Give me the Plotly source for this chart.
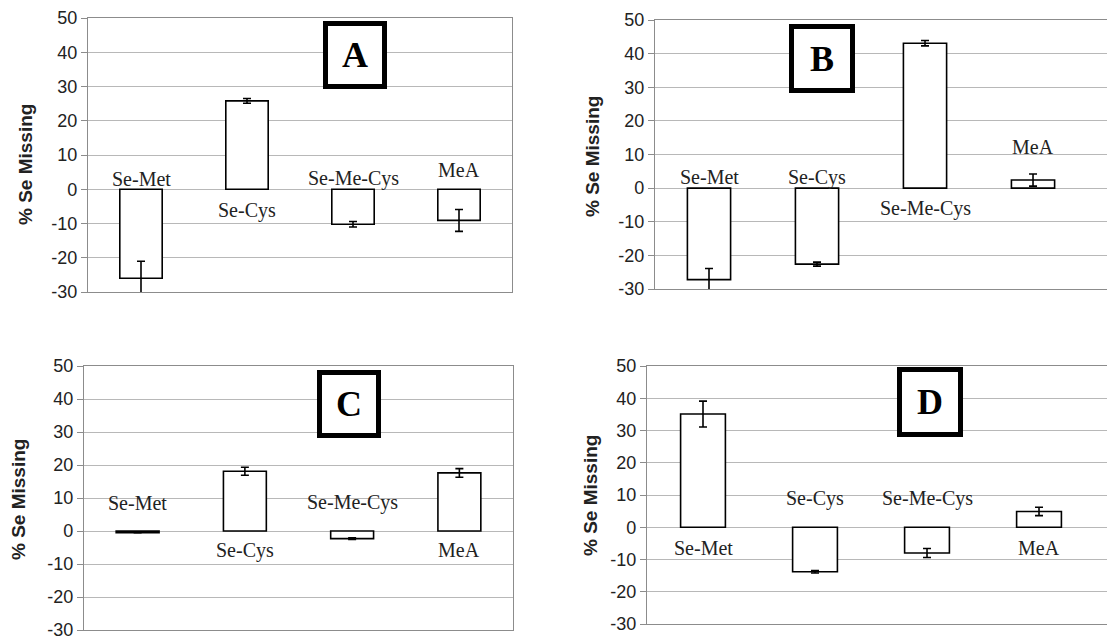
import plotly.graph_objects as go
from plotly.subplots import make_subplots

W, H = 1107, 640

categories = ["Se-Met", "Se-Cys", "Se-Me-Cys", "MeA"]
tick_vals = [-30, -20, -10, 0, 10, 20, 30, 40, 50]
y_title = "% Se Missing"

# panel A
a_values = [-26.0, 25.8, -10.2, -9.1]
a_errors = [5.0, 0.7, 0.8, 3.2]
# panel B
b_values = [-27.2, -22.6, 43.1, 2.4]
b_errors = [3.3, 0.6, 0.8, 1.8]
# panel C
c_values = [-0.5, 18.1, -2.3, 17.6]
c_errors = [0.0, 1.2, 0.25, 1.3]
# panel D
d_values = [35.1, -13.8, -8.0, 4.9]
d_errors = [4.0, 0.4, 1.4, 1.3]

panel_letters = ["A", "B", "C", "D"]

# label vertical positions (data units) per panel
a_label_y = [3.1, -6.1, 3.1, 5.6]
b_label_y = [3.2, 3.2, -6.2, 12.3]
c_label_y = [8.5, -5.9, 8.5, -5.9]
d_label_y = [-6.5, 8.8, 8.8, -6.5]


def X(px):
    return px / W


def Y(py):
    return 1 - py / H


panels = [
    dict(vals=a_values, errs=a_errors, lab=a_label_y, l=88, r=512, t=18, b=292, xend=3.5, mirror=True,
         box=(325.5, 384.5, 23.5, 86.5), title=(25, 165)),
    dict(vals=b_values, errs=b_errors, lab=b_label_y, l=655, r=1107, t=20, b=289, xend=3.685, mirror=False,
         box=(791.5, 852.5, 26.5, 90.5), title=(592, 157)),
    dict(vals=c_values, errs=c_errors, lab=c_label_y, l=84, r=513, t=366, b=630, xend=3.5, mirror=True,
         box=(319.5, 378.5, 372.5, 435.5), title=(18, 500)),
    dict(vals=d_values, errs=d_errors, lab=d_label_y, l=647, r=1107, t=366, b=624, xend=3.607, mirror=False,
         box=(899.5, 960.5, 369.5, 434.5), title=(590, 496)),
]

fig = make_subplots(rows=2, cols=2)

annotations = []
shapes = []
grid_color = "#b8b8b8"
line_color = "#8c8c8c"

for i, p in enumerate(panels):
    row, col = i // 2 + 1, i % 2 + 1
    fig.add_trace(
        go.Bar(
            x=list(range(len(categories))),
            y=p["vals"],
            marker=dict(color="white", line=dict(color="black", width=1.6)),
            error_y=dict(type="data", array=p["errs"], visible=True, color="black", thickness=1.6, width=4),
            showlegend=False,
            hoverinfo="skip",
            cliponaxis=False,
        ),
        row=row, col=col,
    )
    xa = "xaxis" if i == 0 else f"xaxis{i+1}"
    ya = "yaxis" if i == 0 else f"yaxis{i+1}"
    fig.layout[xa].update(
        domain=[X(p["l"]), X(p["r"])],
        range=[-0.5, p["xend"]],
        showticklabels=False, ticks="", showgrid=False, zeroline=False,
        showline=True, linecolor=line_color, linewidth=1.3, mirror=True,
        fixedrange=True, automargin=False,
    )
    fig.layout[ya].update(
        domain=[Y(p["b"]), Y(p["t"])],
        range=[-30, 50],
        tickvals=tick_vals,
        ticktext=[str(v) for v in tick_vals],
        ticks="outside", ticklen=6, tickcolor=line_color, tickwidth=1.2,
        tickfont=dict(family="Liberation Sans, Arial", size=18, color="#222222"),
        ticklabeloverflow="allow",
        showgrid=True, gridcolor=grid_color, gridwidth=1.2,
        zeroline=False,
        showline=True, linecolor=line_color, linewidth=1.3, mirror=p["mirror"],
        fixedrange=True, automargin=False,
    )
    xref = "x" if i == 0 else f"x{i+1}"
    yref = "y" if i == 0 else f"y{i+1}"
    for j, cat in enumerate(categories):
        annotations.append(dict(
            x=j, y=p["lab"][j], xref=xref, yref=yref, text=cat, showarrow=False,
            xanchor="center", yanchor="middle",
            font=dict(family="Liberation Serif, Times New Roman", size=20, color="#222222"),
        ))
    bx0, bx1, by0, by1 = p["box"]
    shapes.append(dict(
        type="rect", xref="paper", yref="paper",
        x0=X(bx0), x1=X(bx1), y0=Y(by1), y1=Y(by0),
        line=dict(color="black", width=5), fillcolor="white", layer="above",
    ))
    annotations.append(dict(
        x=X((bx0 + bx1) / 2), y=Y((by0 + by1) / 2), xref="paper", yref="paper",
        text=f"<b>{panel_letters[i]}</b>", showarrow=False, xanchor="center", yanchor="middle",
        font=dict(family="Liberation Serif, Times New Roman", size=36, color="black"),
    ))
    tx, ty = p["title"]
    annotations.append(dict(
        x=X(tx), y=Y(ty), xref="paper", yref="paper", text=f"<b>{y_title}</b>",
        showarrow=False, textangle=-90, xanchor="center", yanchor="middle",
        font=dict(family="Liberation Sans, Arial", size=19, color="#222222"),
    ))

fig.update_layout(
    width=W, height=H,
    margin=dict(l=0, r=0, t=0, b=0, autoexpand=False),
    paper_bgcolor="white", plot_bgcolor="white",
    annotations=annotations, shapes=shapes,
    bargap=0.6,
)

fig.write_html(
    "out.html",
    config={"displayModeBar": False},
    post_script="document.body.style.margin='0';document.body.style.overflow='hidden';",
)
